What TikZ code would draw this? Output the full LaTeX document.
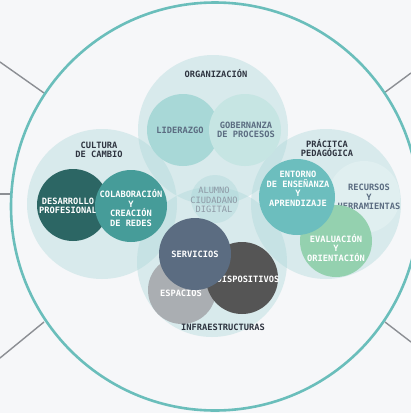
\documentclass[tikz,border=0pt]{standalone}
\usepackage{fontspec}
\setmonofont{DejaVu Sans Mono}
\usetikzlibrary{calc}
\definecolor{bgcol}{HTML}{F6F7F9}
\definecolor{rimcol}{HTML}{6ABEBB}
\definecolor{wirecol}{HTML}{8C8F94}
\definecolor{groupcol}{HTML}{A9D6D7}
\definecolor{titlecol}{HTML}{2E3440}
\definecolor{slatecol}{HTML}{5B6C81}
\definecolor{palecol}{HTML}{8F9AA6}
\definecolor{liderazgocol}{HTML}{A8D8D7}
\definecolor{gobernanzacol}{HTML}{C6E5E3}
\definecolor{desarrollocol}{HTML}{2C6664}
\definecolor{colaboracioncol}{HTML}{469C99}
\definecolor{recursoscol}{HTML}{E0EFF0}
\definecolor{evaluacioncol}{HTML}{94D1AF}
\definecolor{entornocol}{HTML}{6CBEBE}
\definecolor{espacioscol}{HTML}{AAAEB2}
\definecolor{dispositivoscol}{HTML}{555555}
\definecolor{servicioscol}{HTML}{5B6C81}
\begin{document}
\begin{tikzpicture}[x=1pt,y=-1pt,
        wire/.style={draw=wirecol, line width=1.4pt},
        rim/.style={draw=rimcol, line width=2.6pt},
        group/.style={fill=groupcol, fill opacity=.38},
        lbl/.style={font=\ttfamily\bfseries\fontsize{8.7}{9.5}\selectfont, align=center, inner sep=0pt},
        title lbl/.style={lbl, text=titlecol},
        dark lbl/.style={lbl, text=slatecol},
        white lbl/.style={lbl, text=white}]
        \fill[bgcol] (0,0) rectangle (411,413);
        \useasboundingbox (0,0) rectangle (411,413);

        % spokes
        \draw[wire] (0,62)  -- (44,93);
        \draw[wire] (411,73) -- (384,93);
        \draw[wire] (0,358) -- (44,322);
        \draw[wire] (411,342) -- (385,322);
        \draw[wire] (0,194) -- (12,194);
        \draw[rim] (215,206.5) circle (204pt);

        % groups
        \fill[group] (213,130) circle (75pt);
        \fill[group] (102,204) circle (75pt);
        \fill[group] (326,204) circle (75pt);
        \fill[group] (212,262) circle (75pt);
        \fill[group] (215,199) circle (24pt);

        \node[lbl, text=palecol, font=\ttfamily\fontsize{8.7}{9.5}\selectfont] (alumno) at (214,200) {ALUMNO\\CIUDADANO\\DIGITAL};

        \begin{scope}
          \fill[liderazgocol] (183,130) circle (36pt);
          \node[dark lbl] (liderazgo) at (180,130) {LIDERAZGO};
          \fill[gobernanzacol] (245,130) circle (36pt);
          \node[dark lbl] (gobernanza) at (246,130) {GOBERNANZA\\DE PROCESOS};
          \node[title lbl] (organizacion) at (216,74) {ORGANIZACIÓN};
        \end{scope}

        \begin{scope}
          \fill[desarrollocol] (73,205) circle (36pt);
          \node[white lbl] (desarrollo) at (68,206) {DESARROLLO\\PROFESIONAL};
          \fill[colaboracioncol] (131,206) circle (36pt);
          \node[white lbl] (colaboracion) at (131,208) {COLABORACIÓN\\Y\\CREACIÓN\\DE REDES};
          \node[title lbl] (cultura) at (99,150) {CULTURA\\DE CAMBIO};
        \end{scope}

        \begin{scope}
          \fill[recursoscol] (364,197) circle (36pt);
          \node[dark lbl] (recursos) at (369,197) {RECURSOS\\Y\\HERRAMIENTAS};
          \fill[evaluacioncol] (336,241) circle (36pt);
          \node[white lbl] (evaluacion) at (336,248) {EVALUACIÓN\\Y\\ORIENTACIÓN};
          \fill[entornocol] (297,197) circle (38pt);
          \node[white lbl] (entorno) at (298,189) {ENTORNO\\DE ENSEÑANZA\\Y\\APRENDIZAJE};
          \node[title lbl] (practica) at (327,148) {PRÁCITCA\\PEDAGÓGICA};
        \end{scope}

        \begin{scope}
          \fill[espacioscol] (182,290) circle (34pt);
          \node[white lbl] (espacios) at (181,293) {ESPACIOS};
          \fill[dispositivoscol] (242,278) circle (36pt);
          \node[white lbl] (dispositivos) at (248,279) {DISPOSITIVOS};
          \fill[servicioscol] (195,254) circle (36pt);
          \node[white lbl] (servicios) at (195,254) {SERVICIOS};
          \node[title lbl] (infra) at (223,327) {INFRAESTRUCTURAS};
        \end{scope}
      \end{tikzpicture}
\end{document}
